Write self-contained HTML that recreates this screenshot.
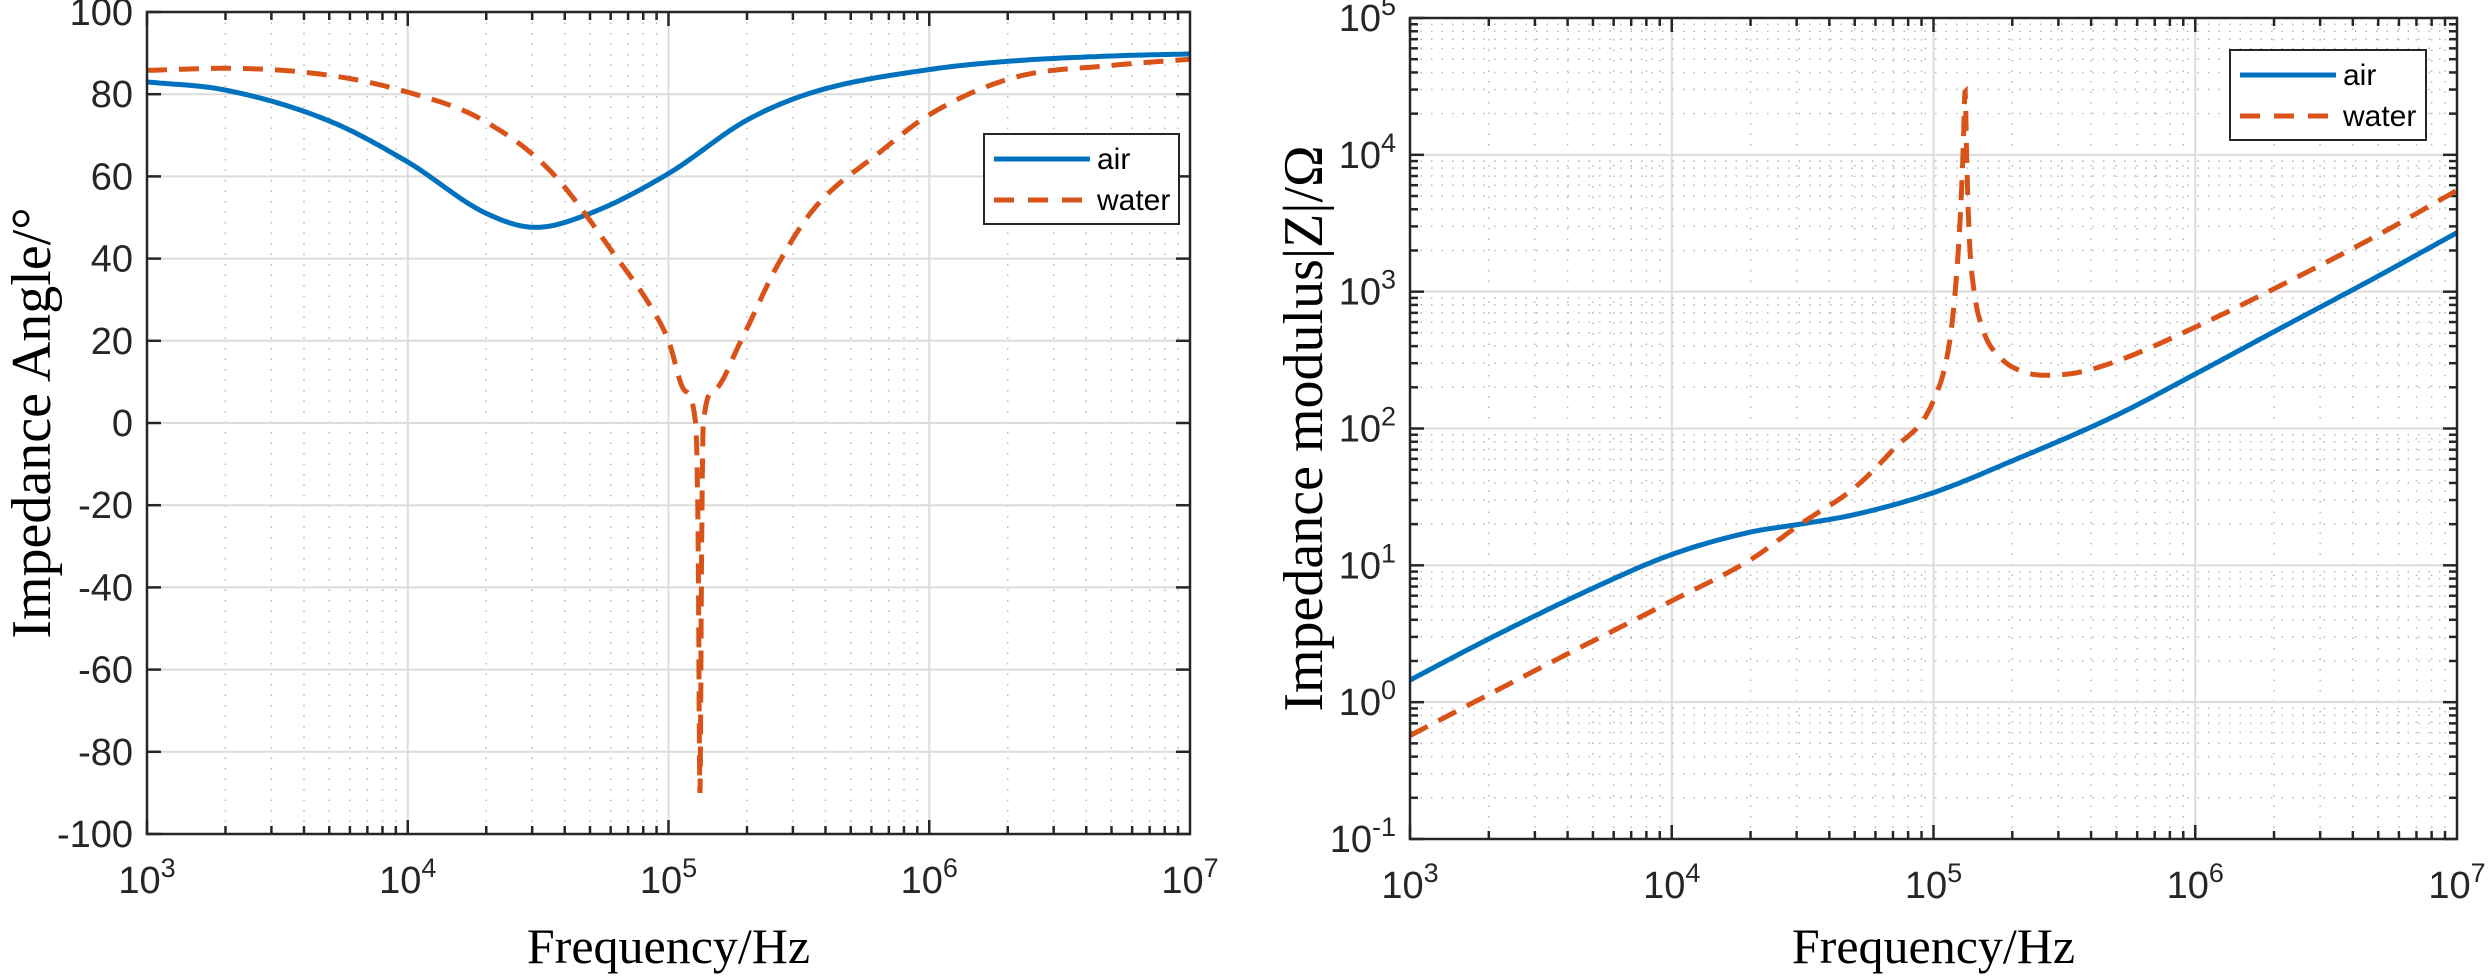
<!DOCTYPE html>
<html><head><meta charset="utf-8"><style>
html,body{margin:0;padding:0;background:#fff;}
svg{display:block;}
</style></head><body>
<svg id="chart" width="2488" height="976" viewBox="0 0 2488 976" xmlns="http://www.w3.org/2000/svg">
<g id="left"></g>
<g id="right"></g>
</svg>
<script>
// ---- data ----
const angleAirF   = [1e3,2e3,5e3,1e4,2e4,3.1e4,5e4,1e5,2e5,3.6e5,1e6,2e6,5e6,1e7];
const angleAirV   = [83,81,73.5,63.5,51,47.6,51,60.7,73.7,80.5,86,88,89.3,89.8];
const angleWaterF = [1e3,2e3,5e3,1e4,1.9e4,3.5e4,6.2e4,8.8e4,1e5,1.15e5,1.27e5,1.3e5,1.32e5,1.34e5,1.36e5,1.5e5,1.88e5,2.6e5,3.6e5,6.5e5,1e6,2.1e6,5e6,1e7];
const angleWaterV = [85.8,86.3,84.6,80.5,74,61.5,41,27,20,8,0,-30,-90,-30,0,8,19.5,38,52,66,75,84,87,88.5];
const modAirF   = [1e3,2e3,5e3,1e4,2e4,3.1e4,5e4,1e5,2e5,5e5,1e6,2e6,5e6,1e7];
const modAirV   = [1.45,2.9,6.8,12,17.5,20,23.5,34,58,125,250,510,1300,2700];
const modWaterF = [1e3,3e3,1e4,2e4,3.1e4,5e4,7e4,1e5,1.15e5,1.22e5,1.27e5,1.3e5,1.32e5,1.34e5,1.37e5,1.42e5,1.55e5,1.8e5,2.2e5,2.7e5,3.5e5,5e5,1e6,2e6,5e6,1e7];
const modWaterV = [0.57,1.7,5.5,11,20,37,70,160,420,1200,4000,12000,29000,9000,2500,1100,520,330,260,245,255,310,550,1050,2600,5500];
const xTicks = [3,4,5,6,7];
const angleTicks = [100,80,60,40,20,0,-20,-40,-60,-80,-100];
const modTicks = [5,4,3,2,1,0,-1];
const legendLabels = ['air','water'];

const NS='http://www.w3.org/2000/svg';
function el(parent,tag,attrs,text){const e=document.createElementNS(NS,tag);for(const k in attrs)e.setAttribute(k,attrs[k]);if(text!==undefined)e.textContent=text;parent.appendChild(e);return e;}
const BLUE='#0072BD', ORANGE='#D95319';

function monotone(X,Y){
  const n=X.length, d=[], m=new Array(n);
  for(let i=0;i<n-1;i++) d.push((Y[i+1]-Y[i])/(X[i+1]-X[i]));
  m[0]=d[0]; m[n-1]=d[n-2];
  for(let i=1;i<n-1;i++){ m[i]=(d[i-1]*d[i]<=0)?0:(d[i-1]+d[i])/2; }
  for(let i=0;i<n-1;i++){ if(d[i]===0){m[i]=0;m[i+1]=0;continue;}
    const a=m[i]/d[i], b=m[i+1]/d[i], s=a*a+b*b; if(s>9){const t=3/Math.sqrt(s); m[i]=t*a*d[i]; m[i+1]=t*b*d[i];} }
  const out=[];
  for(let i=0;i<n-1;i++){ const h=X[i+1]-X[i]; const N=24;
    for(let k=(i?1:0);k<=N;k++){ const t=k/N, t2=t*t, t3=t2*t;
      const y=(2*t3-3*t2+1)*Y[i]+(t3-2*t2+t)*h*m[i]+(-2*t3+3*t2)*Y[i+1]+(t3-t2)*h*m[i+1];
      out.push([X[i]+t*h,y]); } }
  return out;
}

function drawPanel(g, box, yLog, yMin, yMax, yTickVals, seriesA, seriesB, legendBox, ylabel, ylabelX, xlabY, tickLabY) {
  const {l,r,t,b}=box;
  const xs = f => l + (Math.log10(f)-3)/4*(r-l);
  const yu = u => b - (u-yMin)/(yMax-yMin)*(b-t);
  const ys = v => yu(yLog? Math.log10(v): v);
  const grid=el(g,'g',{});
  
  
  for(let d=3; d<7; d++) for(let m=2;m<=9;m++){const x=xs(m*Math.pow(10,d));
    el(grid,'line',{x1:x,x2:x,y1:t,y2:b,stroke:'#b8b8b8','stroke-width':1.5,'stroke-dasharray':'1.5 9'});}
  if(yLog){ for(let d=yMin; d<yMax; d++) for(let m=2;m<=9;m++){const y=ys(m*Math.pow(10,d));
    el(grid,'line',{x1:l,x2:r,y1:y,y2:y,stroke:'#b8b8b8','stroke-width':1.5,'stroke-dasharray':'1.5 9'});}}
  xTicks.forEach(d=>{const x=xs(Math.pow(10,d)); el(grid,'line',{x1:x,x2:x,y1:t,y2:b,stroke:'#dcdcdc','stroke-width':2});});
  yTickVals.forEach(v=>{const y=ys(yLog?Math.pow(10,v):v); el(grid,'line',{x1:l,x2:r,y1:y,y2:y,stroke:'#dcdcdc','stroke-width':2});});
  const tk=el(g,'g',{stroke:'#262626','stroke-width':2.5});
  
  
  for(let d=3; d<7; d++) for(let m=1;m<=9;m++){const x=xs(m*Math.pow(10,d)); const L=m==1?14:8;
    el(tk,'line',{x1:x,x2:x,y1:b,y2:b-L}); el(tk,'line',{x1:x,x2:x,y1:t,y2:t+L});}
  yTickVals.forEach(v=>{const y=ys(yLog?Math.pow(10,v):v);
    el(tk,'line',{x1:l,x2:l+14,y1:y,y2:y}); el(tk,'line',{x1:r,x2:r-14,y1:y,y2:y});});
  if(yLog){ for(let d=yMin; d<yMax; d++) for(let m=2;m<=9;m++){const y=ys(m*Math.pow(10,d));
    el(tk,'line',{x1:l,x2:l+8,y1:y,y2:y}); el(tk,'line',{x1:r,x2:r-8,y1:y,y2:y});}}
  const path=(F,V)=>{
    const pts=monotone(F.map(f=>Math.log10(f)), V.map(v=>yLog?Math.log10(v):v));
    return pts.map((p,i)=>(i?'L':'M')+(l+(p[0]-3)/4*(r-l)).toFixed(1)+','+yu(p[1]).toFixed(1)).join(' ');
  };
  const pa=el(g,'path',{d:path(seriesA[0],seriesA[1]),fill:'none',stroke:BLUE,'stroke-width':5,'stroke-linejoin':'round'});
  
  
  const pb=el(g,'path',{d:path(seriesB[0],seriesB[1]),fill:'none',stroke:ORANGE,'stroke-width':5,'stroke-dasharray':'20 12'});
  
  
  const ax=el(g,'rect',{x:l,y:t,width:r-l,height:b-t,fill:'none',stroke:'#262626','stroke-width':2.5});
  
  
  xTicks.forEach(d=>{const x=xs(Math.pow(10,d));
    const tx=el(g,'text',{x:x,y:tickLabY,'text-anchor':'middle','font-family':'Liberation Sans, sans-serif','font-size':38,fill:'#262626'});
    
    
    el(tx,'tspan',{},'10'); el(tx,'tspan',{dy:-16,'font-size':27},String(d));});
  yTickVals.forEach(v=>{const y=ys(yLog?Math.pow(10,v):v);
    const tx=el(g,'text',{x:l-14,y:y+13,'text-anchor':'end','font-family':'Liberation Sans, sans-serif','font-size':38,fill:'#262626'});
    
    
    if(yLog){el(tx,'tspan',{},'10'); el(tx,'tspan',{dy:-16,'font-size':27},String(v));}
    else tx.textContent=String(v);});
  const xl=el(g,'text',{x:(l+r)/2,y:xlabY,'text-anchor':'middle','font-family':'Liberation Serif, serif','font-size':50,fill:'#000'},'Frequency/Hz');
  
  
  const cy=(t+b)/2;
  const yl=el(g,'text',{x:ylabelX,y:cy,'text-anchor':'middle','font-family':'Liberation Serif, serif','font-size':56,fill:'#000',transform:`rotate(-90 ${ylabelX} ${cy})`},ylabel);
  
  
  const lg=el(g,'g',{});
  
  
  el(lg,'rect',{x:legendBox.x,y:legendBox.y,width:legendBox.w,height:legendBox.h,fill:'#fff',stroke:'#262626','stroke-width':2});
  legendLabels.forEach((lab,i)=>{const y=legendBox.y+25+i*41;
    const e=el(lg,'g',{});
    
    
    el(e,'line',{x1:legendBox.x+10,x2:legendBox.x+106,y1:y,y2:y,stroke:i?ORANGE:BLUE,'stroke-width':5,'stroke-dasharray':i?'20 14':'none'});
    el(e,'text',{x:legendBox.x+113,y:y+10,'font-family':'Liberation Sans, sans-serif','font-size':30,fill:'#000'},lab);});
}

drawPanel(document.getElementById('left'),{l:147,r:1190,t:12,b:834},false,-100,100,angleTicks,
  [angleAirF,angleAirV],[angleWaterF,angleWaterV],{x:984,y:134,w:195,h:90},'Impedance Angle/°',50,963,893);
drawPanel(document.getElementById('right'),{l:1410,r:2457,t:18,b:839},true,-1,5,modTicks,
  [modAirF,modAirV],[modWaterF,modWaterV],{x:2230,y:50,w:196,h:90},'Impedance modulus|Z|/Ω',1322,963,898);
</script>
</body></html>
